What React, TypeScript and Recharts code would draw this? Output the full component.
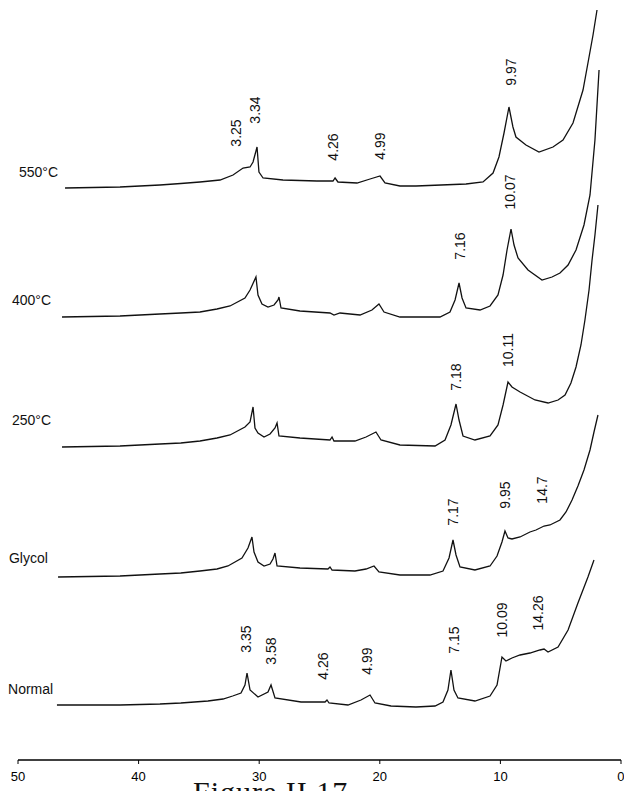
import React from "react";
import { LineChart, Line, XAxis, YAxis, ReferenceDot } from "recharts";

// x: degrees 2-theta (axis reads 50 -> 0), y: counts above each trace's baseline
const normalScan: [number, number][] = [
  [46.77, 0], [41.54, 0], [38.23, 1], [36.5, 2], [34.25, 4], [33.0, 6], [32.2, 9],
  [31.51, 12], [31.18, 20], [31.01, 32],
  [30.76, 15], [30.1, 8], [29.27, 13], [29.02, 20], [28.69, 7], [26.53, 3], [24.54, 3],
  [24.38, 5], [24.21, 2], [22.64, 0], [21.56, 5], [20.81, 10], [20.4, 2], [19.07, -1],
  [17.0, -2], [15.42, -1], [14.76, 3], [14.35, 15], [14.1, 35], [13.85, 15], [13.52, 7],
  [12.11, 4], [10.86, 9], [10.28, 20], [9.87, 48], [9.54, 44], [9.04, 47], [8.37, 50],
  [7.55, 52], [6.72, 55], [6.38, 56], [6.05, 53], [5.22, 58], [4.39, 75], [3.57, 102],
  [2.74, 128], [2.24, 145],
];
const glycolScan: [number, number][] = [
  [46.68, 0], [41.54, 1], [38.23, 3], [36.5, 4], [34.91, 6], [33.5, 8], [32.59, 11],
  [31.43, 19], [30.93, 29],
  [30.6, 40], [30.43, 25], [30.1, 15], [29.6, 11], [29.1, 13], [28.86, 18], [28.69, 24],
  [28.52, 11], [26.62, 9], [24.3, 8], [24.13, 10], [23.96, 7], [22.06, 6], [21.14, 8],
  [20.48, 11], [20.07, 5], [18.33, 2], [15.84, 2], [14.76, 6], [14.26, 19], [13.93, 37],
  [13.68, 22], [13.35, 10], [12.11, 7], [10.86, 11], [10.28, 21], [9.87, 35], [9.62, 46],
  [9.37, 39], [9.04, 38], [8.37, 40], [7.55, 45], [7.05, 47], [6.38, 51], [5.89, 52],
  [5.06, 57], [4.56, 65], [4.06, 77], [3.57, 91], [3.07, 107], [2.57, 127], [2.24, 145],
  [1.91, 162],
];
const heated250Scan: [number, number][] = [
  [46.35, 0], [41.54, 1], [38.23, 3], [36.5, 4], [34.91, 6], [33.5, 9], [32.42, 12],
  [31.18, 20], [30.76, 25],
  [30.51, 40], [30.35, 19], [30.1, 14], [29.6, 10], [29.1, 13], [28.69, 19], [28.52, 24],
  [28.36, 11], [26.62, 9], [24.13, 7], [23.96, 10], [23.8, 6], [22.06, 6], [21.14, 10],
  [20.32, 15], [19.9, 7], [18.33, 2], [15.42, 1], [14.59, 7], [14.1, 22], [13.68, 43],
  [13.43, 27], [13.1, 11], [12.11, 7], [10.86, 11], [10.2, 22], [9.78, 42], [9.37, 65],
  [9.04, 60], [8.37, 55], [7.13, 47], [6.05, 44], [5.22, 47], [4.64, 52], [4.15, 64],
  [3.73, 80], [3.32, 102], [2.99, 127], [2.65, 157], [2.4, 187], [2.16, 212], [1.91, 242],
];
const heated400Scan: [number, number][] = [
  [46.35, 0], [41.54, 1], [38.23, 3], [36.5, 4], [34.91, 5], [33.5, 8], [32.42, 11],
  [31.18, 19], [30.76, 27],
  [30.27, 40], [30.1, 22], [29.77, 13], [29.27, 10], [28.77, 12], [28.44, 17], [28.36, 20],
  [28.19, 9], [26.62, 6], [24.13, 4], [23.8, 2], [23.3, 4], [21.64, 2], [20.65, 7],
  [20.07, 13], [19.65, 5], [18.33, 0], [15.01, 0], [14.18, 5], [13.76, 17], [13.43, 34],
  [13.18, 19], [12.85, 9], [11.69, 7], [10.86, 11], [10.2, 22], [9.78, 42], [9.45, 67],
  [9.12, 88], [8.87, 72], [8.54, 59], [7.71, 47], [6.55, 37], [5.72, 40], [5.06, 44],
  [4.39, 52], [3.73, 67], [3.07, 92], [2.57, 122], [2.16, 177], [1.82, 247],
];
const heated550Scan: [number, number][] = [
  [46.1, 0], [41.54, 1], [38.23, 3], [36.5, 4.5], [34.91, 6], [33.25, 8], [32.17, 13],
  [31.34, 20],
  [30.76, 21], [30.51, 26], [30.18, 41], [30.02, 16], [29.68, 10], [28.03, 8], [25.21, 7],
  [23.88, 7], [23.71, 10], [23.47, 6], [21.89, 5], [20.81, 9], [19.98, 12], [19.57, 5],
  [18.33, 2], [17.0, 2], [12.85, 4], [11.44, 6], [10.61, 15], [10.12, 31], [9.7, 55],
  [9.29, 81], [8.96, 61], [8.71, 51], [7.88, 43], [6.8, 36], [5.64, 41], [4.81, 48],
  [3.98, 65], [3.15, 98], [2.65, 131], [2.32, 153], [1.99, 178],
];

// d-spacing tags (A): [text, 2-theta, height above baseline]
const normalPeaks: [string, number, number][] = [
  ["3.35", 31.09, 66], ["3.58", 29.02, 54], ["4.26", 24.71, 39], ["4.99", 21.06, 44],
  ["7.15", 13.85, 65], ["10.09", 9.87, 85], ["14.26", 6.88, 92],
];
const glycolPeaks: [string, number, number][] = [
  ["7.17", 13.93, 65], ["9.95", 9.62, 82], ["14.7", 6.55, 87],
];
const heated250Peaks: [string, number, number][] = [
  ["7.18", 13.68, 70], ["10.11", 9.37, 97],
];
const heated400Peaks: [string, number, number][] = [
  ["7.16", 13.35, 71], ["10.07", 9.2, 125],
];
const heated550Peaks: [string, number, number][] = [
  ["3.25", 31.92, 55], ["3.34", 30.35, 78], ["4.26", 23.88, 41], ["4.99", 19.98, 42],
  ["9.97", 9.12, 116],
];

const sampleNames = ["Normal", "Glycol", "250\u00b0C", "400\u00b0C", "550\u00b0C"];
const sampleOffsets = [55, 183, 313, 443, 572];
const sampleNameX = [50.91, 50.83, 50.58, 50.58, 50.0];
const sampleNameY = [16, 19, 27, 17, 16];
const axisTicks = [50, 40, 30, 20, 10, 0];

const scans = [normalScan, glycolScan, heated250Scan, heated400Scan, heated550Scan];
const peaks = [normalPeaks, glycolPeaks, heated250Peaks, heated400Peaks, heated550Peaks];

const W = 624;
const H = 791;

export default function App() {
  return (
    <div
      style={{
        position: "absolute",
        left: 0,
        top: 0,
        width: W,
        height: H,
        overflow: "hidden",
        background: "#fff",
        fontFamily: "'Liberation Sans', Arial, sans-serif",
      }}
    >
      <LineChart width={W} height={H} margin={{ top: 0, right: 3, left: 18, bottom: 1 }}>
        <XAxis
          dataKey="t"
          type="number"
          domain={[0, 50]}
          reversed
          ticks={axisTicks}
          height={30}
          tickSize={4}
          tickMargin={8}
          axisLine={{ stroke: "#000", strokeWidth: 1.5 }}
          tickLine={{ stroke: "#000" }}
          tick={{ fill: "#000", fontSize: 13 }}
          allowDataOverflow
        />
        <YAxis hide type="number" domain={[0, 760]} allowDataOverflow />
        {scans.map((scan, i) => (
          <Line
            key={sampleNames[i]}
            data={scan.map(([t, c]) => ({ t, v: sampleOffsets[i] + c }))}
            dataKey="v"
            type="linear"
            stroke="#111"
            strokeWidth={1.3}
            dot={false}
            activeDot={false}
            isAnimationActive={false}
          />
        ))}
        {peaks.map((list, i) =>
          list.map(([text, t, h]) => (
            <ReferenceDot
              key={sampleNames[i] + text}
              x={t}
              y={sampleOffsets[i] + h}
              r={1}
              fill="none"
              stroke="none"
              ifOverflow="visible"
              label={{ value: text, position: "center", angle: -90, fill: "#111", fontSize: 14 }}
            />
          ))
        )}
        {sampleNames.map((name, i) => (
          <ReferenceDot
            key={"name" + name}
            x={sampleNameX[i]}
            y={sampleOffsets[i] + sampleNameY[i]}
            r={1}
            fill="none"
            stroke="none"
            ifOverflow="visible"
            label={{ value: name, position: "right", offset: 0, fill: "#111", fontSize: 14 }}
          />
        ))}
      </LineChart>
      <div
        style={{
          position: "absolute",
          left: 193,
          top: 777,
          fontFamily: "'Liberation Serif', serif",
          fontSize: 30,
          lineHeight: "30px",
          letterSpacing: 1,
          whiteSpace: "nowrap",
          color: "#111",
        }}
      >
        Figure II.17
      </div>
    </div>
  );
}
